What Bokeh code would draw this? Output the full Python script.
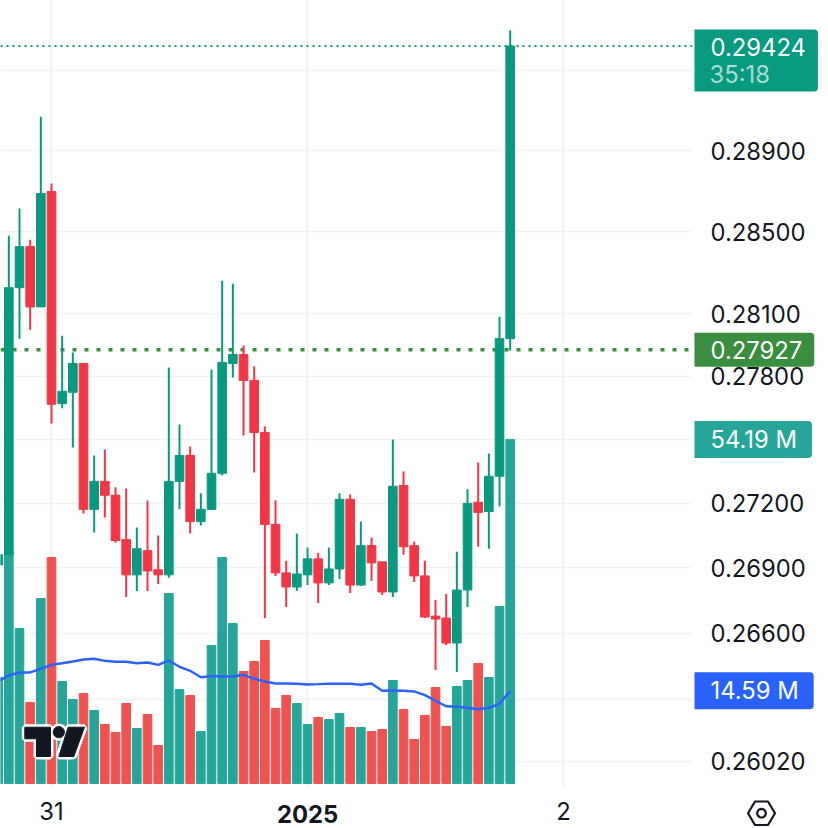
import numpy as np
from bokeh.embed import file_html
from bokeh.models import (BoxAnnotation, ColumnDataSource, FixedTicker, Label, LinearScale,
                          PolyAnnotation, PrintfTickFormatter, Range1d, Span)
from bokeh.plotting import figure
from bokeh.resources import INLINE

open_ = [.26914,.26961,.28227,.28427,.28134,.28698,.27671,.27724,.27862,.27172,.27303,.27238,.27031,
         .26868,.26980,.26891,.26868,.27303,.27425,.27115,.27172,.27341,.27862,.27905,.27781,
         .27533,.27102,.26877,.26812,.26868,.26942,.26831,.26895,.27219,.26821,.27003,.26928,
         .26789,.27284,.27003,.26863,.26678,.26669,.26555,.26798,.27205,.27162,.27327,.27981]
high = [.26961,.28480,.28614,.28461,.29069,.28737,.27995,.27914,.27862,.27425,.27453,.27275,.27270,
        .27087,.27214,.27050,.27843,.27571,.27467,.27247,.27833,.28261,.28246,.27948,.27848,
        .27562,.27214,.26933,.27059,.26994,.26970,.26994,.27247,.27242,.27115,.27041,.26928,
        .27500,.27350,.27022,.26933,.26752,.26780,.26975,.27266,.27392,.27434,.28086,.29502]
low = [.26914,.26961,.27981,.28024,.28134,.27576,.27648,.27462,.27153,.27064,.27134,.27017,.26766,
       .26794,.26794,.26826,.26854,.27172,.27059,.27097,.27172,.27331,.27795,.27519,.27345,
       .26669,.26863,.26720,.26794,.26821,.26738,.26821,.26849,.26784,.26817,.26840,.26775,
       .26766,.26961,.26835,.26669,.26432,.26546,.26423,.26720,.26998,.26989,.27186,.27924]
close = [.26961,.28227,.28427,.28134,.28688,.27667,.27729,.27862,.27172,.27303,.27238,.27027,.26868,
         .26989,.26886,.26868,.27303,.27425,.27115,.27172,.27341,.27867,.27905,.27781,.27533,
         .27102,.26877,.26812,.26872,.26942,.26831,.26895,.27219,.26821,.27003,.26923,.26789,
         .27280,.26998,.26863,.26674,.26665,.26555,.26798,.27200,.27158,.27327,.27981,.29424]
volume = [16.69,36.7,24.41,12.76,29.13,35.59,16.06,13.23,14.17,11.50,9.29,8.03,12.60,
          8.66,10.87,5.98,29.92,14.80,13.86,8.19,21.73,35.59,25.20,17.64,19.21,
          22.52,11.81,13.86,12.60,9.29,10.39,10.08,11.02,8.82,8.82,8.19,8.50,
          16.22,11.65,6.93,10.71,15.12,8.98,15.28,16.22,18.90,16.69,27.87,54.19]
volume_ma = [16.06,17.01,17.48,17.48,18.06,18.69,18.94,19.21,19.53,19.64,19.32,19.17,19.17,
             18.94,19.06,18.69,19.37,18.38,17.75,16.74,16.90,16.85,16.85,17.12,16.49,
             16.06,15.75,15.75,15.70,15.59,15.64,15.70,15.70,15.70,15.54,15.75,14.60,
             14.65,14.60,14.49,13.91,13.02,12.17,12.08,11.92,11.70,11.92,12.55,14.59]
price_ticks = [0.2602,0.263,0.266,0.269,0.272,0.275,0.278,0.281,0.285,0.289,0.293]
time_ticks = [4, 28, 52]
time_labels = {4: "31", 28: "", 52: "2"}
last_price = 0.29424
mark_price = 0.27927
last_volume = 54.19
last_ma = 14.59

TEAL, RED = "#089981", "#F23645"
VTEAL, VRED = "#26A69A", "#EF5350"
INK = "#131722"
FONT = "Inter"
FS = "23.8px"
PANE_RIGHT = 64.09      # x value where the price scale starts
PANE_BOTTOM = 0.25904   # price value where the time scale starts

x = list(range(-1, len(close) - 1))
up = [c >= o for o, c in zip(open_, close)]
src = ColumnDataSource(dict(
    x=x, o=open_, h=high, l=low, c=close, v=volume, ma=volume_ma,
    top=[max(a, b) for a, b in zip(open_, close)],
    bot=[min(a, b) for a, b in zip(open_, close)],
    col=[TEAL if u else RED for u in up],
    vcol=[VTEAL if u else VRED for u in up],
))

p = figure(width=828, height=828, output_backend="svg", toolbar_location=None,
           y_axis_type="log", y_axis_location="right",
           x_range=Range1d(-0.781, 76.84), y_range=Range1d(0.25722, 0.29655),
           min_border_left=0, min_border_top=0, min_border_right=0, min_border_bottom=0)
p.outline_line_color = None
p.background_fill_color = "white"
p.extra_y_ranges = {"vol": Range1d(-7.09, 123.31)}
p.extra_y_scales = {"vol": LinearScale()}

for ax in (p.xaxis[0], p.yaxis[0]):
    ax.axis_line_color = None
    ax.major_tick_line_color = None
    ax.minor_tick_line_color = None
    ax.major_tick_in = 0
    ax.major_tick_out = 0
    ax.minor_tick_in = 0
    ax.minor_tick_out = 0
    ax.major_label_text_font = FONT
    ax.major_label_text_font_size = FS
    ax.major_label_text_color = INK

p.yaxis[0].ticker = FixedTicker(ticks=price_ticks)
p.yaxis[0].formatter = PrintfTickFormatter(format="%.5f")
p.yaxis[0].major_label_standoff = 18
p.yaxis[0].fixed_location = PANE_RIGHT
p.xaxis[0].ticker = FixedTicker(ticks=time_ticks)
p.xaxis[0].major_label_overrides = time_labels
p.xaxis[0].major_label_standoff = 15
p.xaxis[0].fixed_location = PANE_BOTTOM

p.grid.grid_line_color = "#F1F2F4"
p.grid.grid_line_width = 1.6

p.add_layout(Span(location=last_price, dimension="width", line_color=TEAL, line_width=2,
                  line_dash="2 4", level="underlay"))
p.add_layout(Span(location=mark_price, dimension="width", line_color="#388E3C", line_width=3.5,
                  line_dash="4 8", level="underlay"))
# the grid stops at the edge of the pane: blank the scale areas
p.add_layout(BoxAnnotation(left=PANE_RIGHT, fill_color="white", fill_alpha=1, line_color=None,
                           level="underlay"))
p.add_layout(BoxAnnotation(top=PANE_BOTTOM, fill_color="white", fill_alpha=1, line_color=None,
                           level="underlay"))

p.vbar(x="x", width=0.81, bottom=0, top="v", color="vcol", source=src, y_range_name="vol")
p.line(x="x", y="ma", line_color="#2962FF", line_width=2.4, source=src, y_range_name="vol")
p.segment(x0="x", x1="x", y0="l", y1="h", color="col", line_width=2, source=src)
p.vbar(x="x", width=0.81, bottom="bot", top="top", color="col", source=src)


def sy(v):
    return [828 - a for a in v]


def poly(xs, ys, **kw):
    p.add_layout(PolyAnnotation(xs=list(xs), ys=sy(ys), xs_units="screen", ys_units="screen", **kw))


# TradingView logo
t_x, t_y = [24.3, 50, 50, 36, 36, 24.3], [726.7, 726.7, 756, 756, 738.3, 738.3]
s_x, s_y = [67.7, 84, 73.3, 58.3], [726.7, 726.7, 756, 756]
ang = np.linspace(0, 2 * np.pi, 24, endpoint=False)
c_x, c_y = list(58.3 + 5.6 * np.cos(ang)), list(731.7 + 5.6 * np.sin(ang))
for xs, ys in ((t_x, t_y), (s_x, s_y), (c_x, c_y)):
    poly(xs, ys, fill_color="white", fill_alpha=1, line_color="white", line_width=6, line_alpha=1)
for xs, ys in ((t_x, t_y), (s_x, s_y), (c_x, c_y)):
    poly(xs, ys, fill_color=INK, fill_alpha=1, line_color=INK, line_width=1, line_alpha=1)

# settings hexagon
poly([747.5, 754.5, 767.5, 774.5, 767.5, 754.5], [812.7, 801, 801, 812.7, 824.5, 824.5],
     fill_color="white", fill_alpha=1, line_color=INK, line_width=2.2, line_alpha=1)
poly(list(761 + 4.3 * np.cos(ang)), list(812.7 + 4.3 * np.sin(ang)),
     fill_color="white", fill_alpha=1, line_color=INK, line_width=2.2, line_alpha=1)


def tag(text, y, color, pad, y_units="data", y_range_name="default"):
    # padding order: left, right, top, bottom
    p.add_layout(Label(x=694, x_units="screen", y=y, y_units=y_units, y_range_name=y_range_name,
                       text=text, text_color="white", text_font=FONT, text_font_size=FS,
                       text_baseline="middle", text_align="left",
                       background_fill_color=color, background_fill_alpha=1,
                       border_radius=(0, 4, 4, 0), padding=pad))


tag(f"{last_price:.5f}", 828 - 60, TEAL, (16, 12, 8, 36), y_units="screen")
p.add_layout(Label(x=709, x_units="screen", y=828 - 74, y_units="screen", text="35:18",
                   text_color="#A9DCD2", text_font=FONT, text_font_size=FS,
                   text_baseline="middle", text_align="left"))
tag(f"{mark_price:.5f}", mark_price, "#388E3C", (16, 12, 8, 8))
tag(f"{last_volume:.2f} M", last_volume, VTEAL, (16, 15, 4, 4), y_range_name="vol")
tag(f"{last_ma:.2f} M", last_ma, "#2962FF", (16, 15, 4, 4), y_range_name="vol")

p.add_layout(Label(x=28, y=828 - 813, y_units="screen", text="2025", text_color=INK,
                   text_font=FONT, text_font_size=FS, text_font_style="bold",
                   text_baseline="middle", text_align="center"))

open("out.html", "w").write(file_html(p, INLINE))
